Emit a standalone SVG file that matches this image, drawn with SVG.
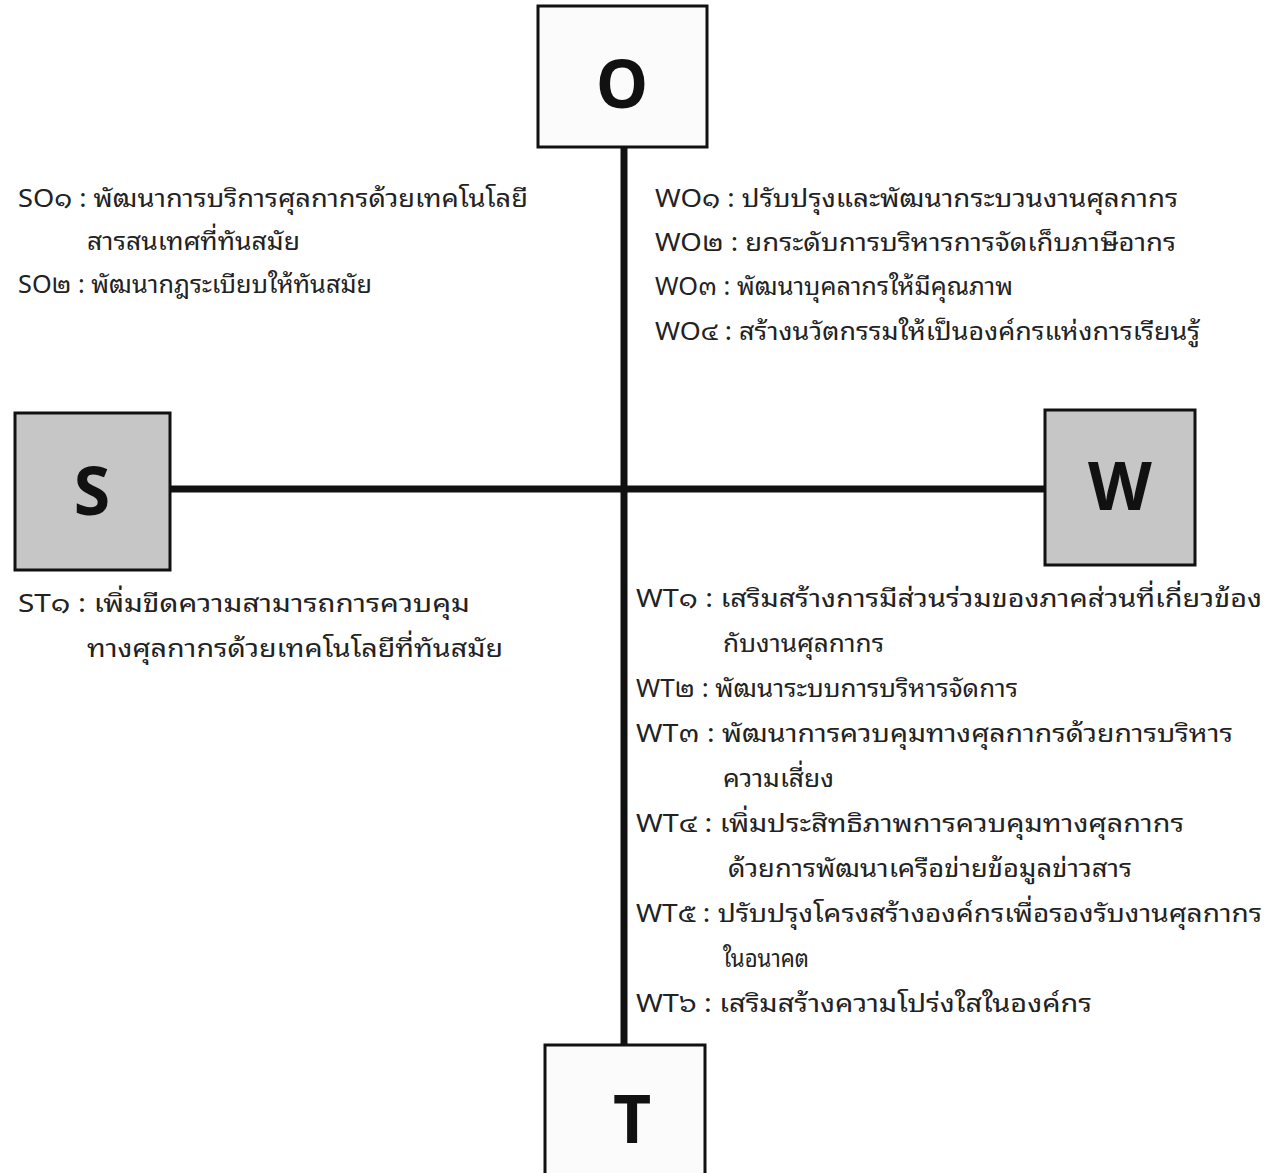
<svg xmlns="http://www.w3.org/2000/svg" width="1280" height="1173" viewBox="0 0 1280 1173">
<style>
.box{stroke:#111;stroke-width:3}
.light{fill:#fbfbfb}
.dark{fill:#c6c6c6}
.big{font-family:"Open Sans","Liberation Sans",sans-serif;font-weight:bold;font-size:66px;fill:#111;text-anchor:middle}
.t{font-family:"Noto Sans Thai Looped","Noto Serif Thai","Noto Sans Thai","Noto Sans","Liberation Sans","DejaVu Sans",sans-serif;font-size:25px;fill:#222}
.conn{stroke:#111;stroke-width:7;fill:none}
</style>
<rect width="1280" height="1173" fill="#ffffff"/>
<g id="connectors">
<line class="conn" x1="624" y1="147" x2="624" y2="1046"/>
<line class="conn" x1="170" y1="489" x2="1046" y2="489"/>
</g>
<g id="node-O">
<rect class="box light" x="538" y="6" width="169" height="141"/>
<text class="big" x="622" y="108">O</text>
</g>
<g id="node-S">
<rect class="box dark" x="15" y="413" width="155" height="157"/>
<text class="big" x="92" y="515">S</text>
</g>
<g id="node-W">
<rect class="box dark" x="1045" y="410" width="150" height="155"/>
<text class="big" x="1120" y="510">W</text>
</g>
<g id="node-T">
<rect class="box light" x="545" y="1045" width="160" height="140"/>
<text class="big" x="632" y="1143">T</text>
</g>
<g id="text-SO">
<text class="t" x="18" y="207" textLength="510" lengthAdjust="spacingAndGlyphs">SO๑ : พัฒนาการบริการศุลกากรด้วยเทคโนโลยี</text>
<text class="t" x="87" y="250" textLength="213" lengthAdjust="spacingAndGlyphs">สารสนเทศที่ทันสมัย</text>
<text class="t" x="18" y="293" textLength="354" lengthAdjust="spacingAndGlyphs">SO๒ : พัฒนากฎระเบียบให้ทันสมัย</text>
</g>
<g id="text-WO">
<text class="t" x="655" y="207" textLength="523" lengthAdjust="spacingAndGlyphs">WO๑ : ปรับปรุงและพัฒนากระบวนงานศุลกากร</text>
<text class="t" x="655" y="251" textLength="521" lengthAdjust="spacingAndGlyphs">WO๒ : ยกระดับการบริหารการจัดเก็บภาษีอากร</text>
<text class="t" x="655" y="295" textLength="358" lengthAdjust="spacingAndGlyphs">WO๓ : พัฒนาบุคลากรให้มีคุณภาพ</text>
<text class="t" x="655" y="340" textLength="545" lengthAdjust="spacingAndGlyphs">WO๔ : สร้างนวัตกรรมให้เป็นองค์กรแห่งการเรียนรู้</text>
</g>
<g id="text-ST">
<text class="t" x="18" y="612" textLength="452" lengthAdjust="spacingAndGlyphs">ST๑ : เพิ่มขีดความสามารถการควบคุม</text>
<text class="t" x="87" y="657" textLength="416" lengthAdjust="spacingAndGlyphs">ทางศุลกากรด้วยเทคโนโลยีที่ทันสมัย</text>
</g>
<g id="text-WT">
<text class="t" x="636" y="607" textLength="626" lengthAdjust="spacingAndGlyphs">WT๑ : เสริมสร้างการมีส่วนร่วมของภาคส่วนที่เกี่ยวข้อง</text>
<text class="t" x="723" y="652" textLength="161" lengthAdjust="spacingAndGlyphs">กับงานศุลกากร</text>
<text class="t" x="636" y="697" textLength="382" lengthAdjust="spacingAndGlyphs">WT๒ : พัฒนาระบบการบริหารจัดการ</text>
<text class="t" x="636" y="742" textLength="597" lengthAdjust="spacingAndGlyphs">WT๓ : พัฒนาการควบคุมทางศุลกากรด้วยการบริหาร</text>
<text class="t" x="723" y="787" textLength="111" lengthAdjust="spacingAndGlyphs">ความเสี่ยง</text>
<text class="t" x="636" y="832" textLength="548" lengthAdjust="spacingAndGlyphs">WT๔ : เพิ่มประสิทธิภาพการควบคุมทางศุลกากร</text>
<text class="t" x="728" y="877" textLength="404" lengthAdjust="spacingAndGlyphs">ด้วยการพัฒนาเครือข่ายข้อมูลข่าวสาร</text>
<text class="t" x="636" y="922" textLength="626" lengthAdjust="spacingAndGlyphs">WT๕ : ปรับปรุงโครงสร้างองค์กรเพื่อรองรับงานศุลกากร</text>
<text class="t" x="723" y="967" textLength="86" lengthAdjust="spacingAndGlyphs">ในอนาคต</text>
<text class="t" x="636" y="1012" textLength="456" lengthAdjust="spacingAndGlyphs">WT๖ : เสริมสร้างความโปร่งใสในองค์กร</text>
</g>
</svg>
